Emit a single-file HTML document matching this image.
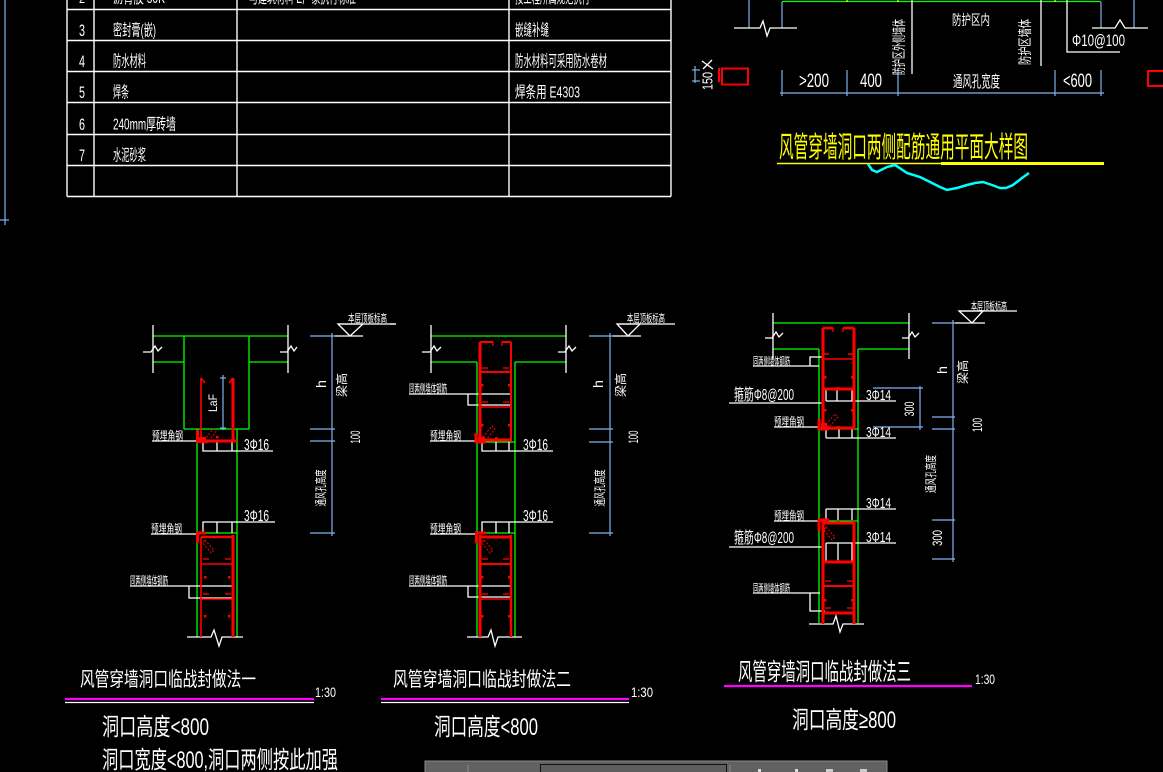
<!DOCTYPE html>
<html><head><meta charset="utf-8">
<style>
html,body{margin:0;padding:0;background:#000;overflow:hidden;}
svg{display:block;}
text{font-family:"Liberation Sans","Noto Sans CJK SC",sans-serif;fill:#fff;}
</style></head><body>
<svg width="1163" height="772" viewBox="0 0 1163 772" xmlns="http://www.w3.org/2000/svg">
<rect width="1163" height="772" fill="#000"/>

<!-- left blue line -->
<g stroke="#7fb2ee" stroke-width="1.2" fill="none">
<line x1="5" y1="0" x2="5" y2="225"/>
<line x1="0" y1="220" x2="9" y2="220"/>
</g>

<!-- TABLE -->
<g stroke="#fff" stroke-width="1.4" fill="none">
<line x1="67" y1="0" x2="67" y2="196.5"/>
<line x1="94" y1="0" x2="94" y2="196.5"/>
<line x1="237" y1="0" x2="237" y2="196.5"/>
<line x1="509" y1="0" x2="509" y2="196.5"/>
<line x1="671" y1="0" x2="671" y2="196.5"/>
<line x1="67" y1="9.5" x2="671" y2="9.5"/>
<line x1="67" y1="40.5" x2="671" y2="40.5"/>
<line x1="67" y1="71.5" x2="671" y2="71.5"/>
<line x1="67" y1="102.5" x2="671" y2="102.5"/>
<line x1="67" y1="134.5" x2="671" y2="134.5"/>
<line x1="67" y1="165.5" x2="671" y2="165.5"/>
<line x1="67" y1="196.5" x2="671" y2="196.5"/>
</g>
<g font-size="16">
<text x="79" y="3" font-size="14" textLength="6" lengthAdjust="spacingAndGlyphs">2</text>
<text x="113" y="3" textLength="52" lengthAdjust="spacingAndGlyphs">沥青胶 50K</text>
<text x="249" y="3" textLength="107" lengthAdjust="spacingAndGlyphs">与建筑材料 E厂家执行标准</text>
<text x="515" y="3" textLength="75" lengthAdjust="spacingAndGlyphs">按工程所属规范执行</text>

<text x="79" y="36" font-size="17" textLength="6" lengthAdjust="spacingAndGlyphs">3</text>
<text x="113" y="35.5" textLength="43" lengthAdjust="spacingAndGlyphs">密封膏(嵌)</text>
<text x="515" y="35.5" textLength="34" lengthAdjust="spacingAndGlyphs">嵌缝补缝</text>

<text x="79" y="67" font-size="17" textLength="6" lengthAdjust="spacingAndGlyphs">4</text>
<text x="113" y="66.5" textLength="33" lengthAdjust="spacingAndGlyphs">防水材料</text>
<text x="515" y="66.5" textLength="92" lengthAdjust="spacingAndGlyphs">防水材料可采用防水卷材</text>

<text x="79" y="98" font-size="17" textLength="6" lengthAdjust="spacingAndGlyphs">5</text>
<text x="113" y="97.5" textLength="16" lengthAdjust="spacingAndGlyphs">焊条</text>
<text x="515" y="97.5" textLength="65" lengthAdjust="spacingAndGlyphs">焊条用 E4303</text>

<text x="79" y="130" font-size="17" textLength="6" lengthAdjust="spacingAndGlyphs">6</text>
<text x="113" y="129.5" textLength="63" lengthAdjust="spacingAndGlyphs">240mm厚砖墙</text>

<text x="79" y="161" font-size="17" textLength="6" lengthAdjust="spacingAndGlyphs">7</text>
<text x="113" y="160.5" textLength="33" lengthAdjust="spacingAndGlyphs">水泥砂浆</text>
</g>

<!-- TOP RIGHT PLAN -->
<g fill="none">
<line x1="782" y1="1.5" x2="1101" y2="1.5" stroke="#00ff00" stroke-width="1.3"/>
<g stroke="#ffff00" stroke-width="1.3">
<line x1="847" y1="0" x2="847" y2="2"/><line x1="898" y1="0" x2="898" y2="2"/><line x1="1055" y1="0" x2="1055" y2="2"/>
</g>
<g stroke="#7fb2ee" stroke-width="1.2">
<line x1="749" y1="0" x2="749" y2="28"/>
<line x1="782" y1="2" x2="782" y2="28"/>
<line x1="1101" y1="2" x2="1101" y2="28"/>
<line x1="1134" y1="0" x2="1134" y2="28"/>
<line x1="780" y1="93" x2="1104" y2="93"/>
<line x1="782" y1="70" x2="782" y2="96"/>
<line x1="847" y1="70" x2="847" y2="96"/>
<line x1="898" y1="70" x2="898" y2="96"/>
<line x1="1055" y1="70" x2="1055" y2="96"/>
<line x1="1101" y1="70" x2="1101" y2="96"/>
<line x1="695" y1="66" x2="695" y2="83"/>
<line x1="692" y1="70" x2="700" y2="70"/>
<line x1="692" y1="81" x2="700" y2="81"/>
</g>
<g stroke="#fff" stroke-width="1.3">
<polyline points="734,28 760,28 763,21 767,36 770,28 797,28"/>
<polyline points="1092,28 1115,28 1120,20 1125,28 1148,28"/>
<line x1="912" y1="0" x2="912" y2="74"/>
<line x1="1041" y1="0" x2="1041" y2="66"/>
<polyline points="1067,0 1067,52 1120,52"/>
<line x1="702" y1="61" x2="713" y2="69"/>
<line x1="703" y1="69" x2="712" y2="60"/>
</g>
<g stroke="#ff0000" stroke-width="2">
<rect x="722" y="68.5" width="26" height="16"/>
<line x1="719" y1="68" x2="719" y2="82"/>
<rect x="1148" y="71" width="18" height="15"/>
</g>
</g>
<text x="952" y="25" font-size="14" textLength="38" lengthAdjust="spacingAndGlyphs">防护区内</text>
<text transform="translate(899,47) rotate(-90)" text-anchor="middle" dy="0.35em" font-size="14" textLength="56" lengthAdjust="spacingAndGlyphs">防护区外侧墙体</text>
<text transform="translate(1025,42) rotate(-90)" text-anchor="middle" dy="0.35em" font-size="14" textLength="46" lengthAdjust="spacingAndGlyphs">防护区墙体</text>
<text x="1072" y="46" font-size="17" textLength="53" lengthAdjust="spacingAndGlyphs">Φ10@100</text>
<text transform="translate(707,81) rotate(-90)" text-anchor="middle" dy="0.35em" font-size="15" textLength="18" lengthAdjust="spacingAndGlyphs">150</text>
<text x="799" y="87" font-size="19" textLength="30" lengthAdjust="spacingAndGlyphs">&gt;200</text>
<text x="860" y="87" font-size="19" textLength="22" lengthAdjust="spacingAndGlyphs">400</text>
<text x="953" y="87" font-size="16" textLength="47" lengthAdjust="spacingAndGlyphs">通风孔宽度</text>
<text x="1063" y="87" font-size="19" textLength="29" lengthAdjust="spacingAndGlyphs">&lt;600</text>

<text x="779" y="157" font-size="29" style="fill:#ffff00" textLength="249" lengthAdjust="spacingAndGlyphs">风管穿墙洞口两侧配筋通用平面大样图</text>
<line x1="777" y1="163.5" x2="941" y2="163.5" stroke="#ffff00" stroke-width="1.5"/>
<line x1="941" y1="163.5" x2="1104" y2="163.5" stroke="#ffff00" stroke-width="3"/>
<polyline points="868,164 872,170 877,172 887,167 895,165 907,173 920,177 930,182 940,187 947,190 957,188 967,185 975,183 983,182 992,185 1000,188 1006,188 1013,185 1022,178 1029,173" fill="none" stroke="#00ffff" stroke-width="2.5"/>

<!-- ================= DETAIL 1 ================= -->
<g fill="none" stroke="#00ff00" stroke-width="1.3">
<line x1="153" y1="336" x2="288" y2="336"/>
<line x1="153" y1="362" x2="184" y2="362"/>
<line x1="249" y1="362" x2="288" y2="362"/>
<line x1="184" y1="336" x2="184" y2="429"/>
<line x1="249" y1="336" x2="249" y2="429"/>
<line x1="184" y1="429" x2="249" y2="429"/>
<line x1="197" y1="429" x2="197" y2="637"/>
<line x1="237" y1="429" x2="237" y2="637"/>
<line x1="197" y1="533" x2="237" y2="533"/>
</g>
<g fill="none" stroke="#fff" stroke-width="1.3">
<line x1="153" y1="325" x2="153" y2="373"/>
<line x1="288" y1="325" x2="288" y2="373"/>
<polyline points="143,352 151,352 155,346 158,351 162,347"/>
<polyline points="280,352 287,352 291,346 294,351 297,347"/>
<line x1="152" y1="441" x2="197" y2="441"/>
<polyline points="203,441 203,451 273,451"/>
<line x1="217" y1="441" x2="217" y2="451"/>
<line x1="232" y1="441" x2="232" y2="451"/>
<line x1="151" y1="534" x2="197" y2="534"/>
<polyline points="203,533 203,522 275,522"/>
<line x1="217" y1="522" x2="217" y2="533"/>
<line x1="232" y1="522" x2="232" y2="533"/>
<line x1="130" y1="586" x2="232" y2="586"/>
<polyline points="189,586 189,598 232,598"/>
<polyline points="187,637 211,637 214,630 219,646 222,637 243,637"/>
<line x1="338" y1="324" x2="396" y2="324"/>
<polygon points="338,324 363,324 350,336"/>
<line x1="335" y1="336" x2="363" y2="336"/>
</g>
<g fill="none" stroke="#7fb2ee" stroke-width="1.2">
<line x1="223" y1="375" x2="223" y2="430"/>
<line x1="220" y1="378" x2="226" y2="378"/>
<line x1="220" y1="428" x2="226" y2="428"/>
<line x1="332" y1="333" x2="332" y2="536"/>
<line x1="310" y1="336" x2="335" y2="336"/>
<line x1="310" y1="429" x2="335" y2="429"/>
<line x1="310" y1="441" x2="335" y2="441"/>
<line x1="310" y1="533" x2="335" y2="533"/>
</g>
<g fill="none" stroke="#ff0000">
<line x1="201" y1="378" x2="201" y2="441" stroke-width="1.6"/>
<line x1="233" y1="378" x2="233" y2="442" stroke-width="3"/>
<line x1="197" y1="441" x2="237" y2="441" stroke-width="3"/>
<line x1="201" y1="378" x2="205" y2="383" stroke-width="1.6"/>
<line x1="233" y1="378" x2="229" y2="383" stroke-width="1.6"/>
<line x1="197.5" y1="430" x2="197.5" y2="443" stroke-width="3"/>
<polygon points="204,440 213,429 216,432 207,443" stroke-width="1" stroke-dasharray="2,1.5"/>
<polyline points="206,533 197.5,533 197.5,543" stroke-width="3"/>
<line x1="201" y1="537" x2="201" y2="637" stroke-width="1.6"/>
<line x1="233" y1="535" x2="233" y2="637" stroke-width="3"/>
<line x1="201" y1="537" x2="233" y2="537" stroke-width="2.5"/>
<line x1="201" y1="564" x2="233" y2="564" stroke-width="1.5"/>
<line x1="201" y1="599" x2="233" y2="599" stroke-width="1.5"/>
<line x1="203" y1="559" x2="209" y2="559" stroke-width="1.3"/>
<line x1="225" y1="559" x2="231" y2="559" stroke-width="1.3"/>
<line x1="203" y1="594" x2="209" y2="594" stroke-width="1.3"/>
<line x1="225" y1="594" x2="231" y2="594" stroke-width="1.3"/>
<polygon points="205,540 214,550 211,553 203,543" stroke-width="1" stroke-dasharray="2,1.5"/>
</g>
<g fill="#ff0000">
<rect x="199" y="437" width="7" height="6"/>
<rect x="216" y="436" width="2.5" height="2.5"/>
<rect x="204" y="576" width="2.5" height="2.5"/><rect x="228" y="576" width="2.5" height="2.5"/>
<rect x="204" y="615" width="2.5" height="2.5"/><rect x="228" y="615" width="2.5" height="2.5"/>
</g>
<text transform="translate(213,403) rotate(-90)" text-anchor="middle" dy="0.35em" font-size="12" textLength="18" lengthAdjust="spacingAndGlyphs">LaF</text>
<text x="152" y="440" font-size="12" textLength="31" lengthAdjust="spacingAndGlyphs">预埋角钢</text>
<text x="244" y="450" font-size="16" textLength="25" lengthAdjust="spacingAndGlyphs">3Φ16</text>
<text x="151" y="533" font-size="12" textLength="31" lengthAdjust="spacingAndGlyphs">预埋角钢</text>
<text x="244" y="521" font-size="16" textLength="25" lengthAdjust="spacingAndGlyphs">3Φ16</text>
<text x="130" y="585" font-size="12" textLength="38" lengthAdjust="spacingAndGlyphs">同两侧墙体钢筋</text>
<text x="348" y="322" font-size="11" textLength="39" lengthAdjust="spacingAndGlyphs">本层顶板标高</text>
<text transform="translate(321,384) rotate(-90)" text-anchor="middle" dy="0.35em" font-size="14" textLength="8" lengthAdjust="spacingAndGlyphs">h</text>
<text transform="translate(342,385) rotate(-90)" text-anchor="middle" dy="0.35em" font-size="12" textLength="24" lengthAdjust="spacingAndGlyphs">梁高</text>
<text transform="translate(355,437) rotate(-90)" text-anchor="middle" dy="0.35em" font-size="14" textLength="13" lengthAdjust="spacingAndGlyphs">100</text>
<text transform="translate(321,488) rotate(-90)" text-anchor="middle" dy="0.35em" font-size="12" textLength="37" lengthAdjust="spacingAndGlyphs">通风孔高度</text>

<!-- ================= DETAIL 2 ================= -->
<g fill="none" stroke="#00ff00" stroke-width="1.3">
<line x1="431" y1="336" x2="566" y2="336"/>
<line x1="431" y1="362" x2="477" y2="362"/>
<line x1="515" y1="362" x2="566" y2="362"/>
<line x1="477" y1="362" x2="477" y2="637"/>
<line x1="515" y1="362" x2="515" y2="637"/>
<line x1="480" y1="442" x2="515" y2="442"/>
<line x1="480" y1="533" x2="515" y2="533"/>
</g>
<g fill="none" stroke="#fff" stroke-width="1.3">
<line x1="431" y1="325" x2="431" y2="373"/>
<line x1="566" y1="325" x2="566" y2="373"/>
<polyline points="422,352 430,352 434,346 437,351 441,347"/>
<polyline points="558,352 565,352 569,346 572,351 576,347"/>
<line x1="390" y1="324" x2="396" y2="324"/>
<line x1="409" y1="394" x2="510" y2="394"/>
<polyline points="468,394 468,405 510,405"/>
<line x1="430" y1="441" x2="476" y2="441"/>
<polyline points="482,442 482,451 553,451"/>
<line x1="496" y1="442" x2="496" y2="451"/>
<line x1="509" y1="442" x2="509" y2="451"/>
<line x1="430" y1="534" x2="476" y2="534"/>
<polyline points="482,533 482,522 553,522"/>
<line x1="496" y1="522" x2="496" y2="533"/>
<line x1="509" y1="522" x2="509" y2="533"/>
<line x1="409" y1="586" x2="510" y2="586"/>
<polyline points="468,586 468,597 510,597"/>
<polyline points="467,637 488,637 491,630 495,646 498,637 522,637"/>
<line x1="617" y1="324" x2="675" y2="324"/>
<polygon points="617,324 640,324 628,336"/>
<line x1="613" y1="336" x2="641" y2="336"/>
</g>
<g fill="none" stroke="#7fb2ee" stroke-width="1.2">
<line x1="610" y1="333" x2="610" y2="536"/>
<line x1="589" y1="336" x2="613" y2="336"/>
<line x1="589" y1="429" x2="613" y2="429"/>
<line x1="589" y1="442" x2="613" y2="442"/>
<line x1="589" y1="533" x2="613" y2="533"/>
</g>
<g fill="none" stroke="#ff0000">
<line x1="480" y1="342" x2="480" y2="441" stroke-width="3"/>
<line x1="511" y1="342" x2="511" y2="441" stroke-width="2"/>
<line x1="480" y1="342" x2="493" y2="342" stroke-width="2"/>
<line x1="502" y1="342" x2="511" y2="342" stroke-width="2"/>
<line x1="493" y1="342" x2="493" y2="346" stroke-width="1.3"/>
<line x1="502" y1="342" x2="502" y2="346" stroke-width="1.3"/>
<line x1="478" y1="440" x2="511" y2="440" stroke-width="3"/>
<line x1="480" y1="372" x2="511" y2="372" stroke-width="2"/>
<line x1="482" y1="368" x2="488" y2="368" stroke-width="1.3"/>
<line x1="503" y1="368" x2="509" y2="368" stroke-width="1.3"/>
<line x1="480" y1="407" x2="511" y2="407" stroke-width="1.5"/>
<line x1="482" y1="402" x2="488" y2="402" stroke-width="1.3"/>
<line x1="503" y1="402" x2="509" y2="402" stroke-width="1.3"/>
<polyline points="476,433 476,442 486,442" stroke-width="3"/>
<polygon points="483,437 492,426 495,429 486,440" stroke-width="1" stroke-dasharray="2,1.5"/>
<polyline points="486,533 476.5,533 476.5,543" stroke-width="3"/>
<line x1="480" y1="535" x2="480" y2="637" stroke-width="3"/>
<line x1="511" y1="535" x2="511" y2="637" stroke-width="2.5"/>
<line x1="480" y1="537" x2="511" y2="537" stroke-width="3"/>
<line x1="480" y1="564" x2="511" y2="564" stroke-width="2"/>
<line x1="480" y1="599" x2="511" y2="599" stroke-width="1.5"/>
<line x1="482" y1="559" x2="488" y2="559" stroke-width="1.3"/>
<line x1="503" y1="559" x2="509" y2="559" stroke-width="1.3"/>
<line x1="482" y1="594" x2="488" y2="594" stroke-width="1.3"/>
<line x1="503" y1="594" x2="509" y2="594" stroke-width="1.3"/>
<polygon points="484,540 493,550 490,553 482,543" stroke-width="1" stroke-dasharray="2,1.5"/>
</g>
<g fill="#ff0000">
<rect x="478" y="437" width="7" height="6"/>
<rect x="481" y="384" width="2.5" height="2.5"/><rect x="508" y="384" width="2.5" height="2.5"/>
<rect x="481" y="424" width="2.5" height="2.5"/><rect x="508" y="424" width="2.5" height="2.5"/>
<rect x="495" y="437" width="2.5" height="2.5"/>
<rect x="481" y="576" width="2.5" height="2.5"/><rect x="508" y="576" width="2.5" height="2.5"/>
<rect x="481" y="615" width="2.5" height="2.5"/><rect x="508" y="615" width="2.5" height="2.5"/>
</g>
<text x="409" y="393" font-size="12" textLength="38" lengthAdjust="spacingAndGlyphs">同两侧墙体钢筋</text>
<text x="430" y="440" font-size="12" textLength="31" lengthAdjust="spacingAndGlyphs">预埋角钢</text>
<text x="523" y="450" font-size="16" textLength="25" lengthAdjust="spacingAndGlyphs">3Φ16</text>
<text x="430" y="533" font-size="12" textLength="31" lengthAdjust="spacingAndGlyphs">预埋角钢</text>
<text x="523" y="521" font-size="16" textLength="25" lengthAdjust="spacingAndGlyphs">3Φ16</text>
<text x="409" y="585" font-size="12" textLength="38" lengthAdjust="spacingAndGlyphs">同两侧墙体钢筋</text>
<text x="627" y="322" font-size="11" textLength="38" lengthAdjust="spacingAndGlyphs">本层顶板标高</text>
<text transform="translate(598,384) rotate(-90)" text-anchor="middle" dy="0.35em" font-size="14" textLength="8" lengthAdjust="spacingAndGlyphs">h</text>
<text transform="translate(621,385) rotate(-90)" text-anchor="middle" dy="0.35em" font-size="12" textLength="24" lengthAdjust="spacingAndGlyphs">梁高</text>
<text transform="translate(633,437) rotate(-90)" text-anchor="middle" dy="0.35em" font-size="14" textLength="13" lengthAdjust="spacingAndGlyphs">100</text>
<text transform="translate(600,488) rotate(-90)" text-anchor="middle" dy="0.35em" font-size="12" textLength="37" lengthAdjust="spacingAndGlyphs">通风孔高度</text>

<!-- ================= DETAIL 3 ================= -->
<g fill="none" stroke="#00ff00" stroke-width="1.3">
<line x1="773" y1="323" x2="909" y2="323"/>
<line x1="773" y1="349" x2="819" y2="349"/>
<line x1="858" y1="349" x2="909" y2="349"/>
<line x1="819" y1="349" x2="819" y2="623"/>
<line x1="858" y1="349" x2="858" y2="623"/>
<line x1="819" y1="429" x2="858" y2="429"/>
<line x1="819" y1="521" x2="858" y2="521"/>
</g>
<g fill="none" stroke="#fff" stroke-width="1.3">
<line x1="773" y1="313" x2="773" y2="359"/>
<line x1="909" y1="313" x2="909" y2="359"/>
<polyline points="765,338 772,338 776,332 779,337 783,333"/>
<polyline points="902,338 908,338 912,332 915,337 919,333"/>
<line x1="753" y1="366" x2="819" y2="366"/>
<polyline points="810,366 810,357 823,357"/>
<line x1="729" y1="403" x2="822" y2="403"/>
<line x1="774" y1="427" x2="819" y2="427"/>
<line x1="826" y1="389" x2="826" y2="401"/>
<line x1="837" y1="389" x2="837" y2="401"/>
<line x1="852" y1="389" x2="852" y2="401"/>
<line x1="826" y1="401" x2="896" y2="401"/>
<line x1="826" y1="429" x2="826" y2="438"/>
<line x1="839" y1="429" x2="839" y2="438"/>
<line x1="852" y1="429" x2="852" y2="438"/>
<line x1="826" y1="438" x2="896" y2="438"/>
<line x1="826" y1="509" x2="896" y2="509"/>
<line x1="826" y1="509" x2="826" y2="520"/>
<line x1="838" y1="509" x2="838" y2="520"/>
<line x1="852" y1="509" x2="852" y2="520"/>
<line x1="774" y1="521" x2="819" y2="521"/>
<line x1="826" y1="543" x2="896" y2="543"/>
<line x1="826" y1="543" x2="826" y2="562"/>
<line x1="838" y1="543" x2="838" y2="562"/>
<line x1="852" y1="543" x2="852" y2="562"/>
<line x1="729" y1="547" x2="822" y2="547"/>
<line x1="753" y1="593" x2="820" y2="593"/>
<polyline points="810,593 810,611 825,611"/>
<polyline points="809,624 833,624 836,616 840,632 843,624 864,624"/>
<line x1="959" y1="311" x2="1017" y2="311"/>
<polygon points="959,311 983,311 972,323"/>
<line x1="955" y1="323" x2="985" y2="323"/>
</g>
<g fill="none" stroke="#7fb2ee" stroke-width="1.2">
<line x1="953" y1="320" x2="953" y2="562"/>
<line x1="932" y1="323" x2="955" y2="323"/>
<line x1="932" y1="417" x2="955" y2="417"/>
<line x1="932" y1="429" x2="955" y2="429"/>
<line x1="932" y1="520" x2="955" y2="520"/>
<line x1="932" y1="559" x2="955" y2="559"/>
<line x1="920" y1="386" x2="920" y2="430"/>
<line x1="873" y1="388" x2="923" y2="388"/>
<line x1="873" y1="427" x2="923" y2="427"/>
</g>
<g fill="none" stroke="#ff0000">
<line x1="823" y1="328" x2="823" y2="429" stroke-width="3"/>
<line x1="854" y1="328" x2="854" y2="429" stroke-width="3"/>
<line x1="823" y1="328" x2="833" y2="328" stroke-width="2.5"/>
<line x1="843" y1="328" x2="854" y2="328" stroke-width="2.5"/>
<line x1="833" y1="328" x2="833" y2="332" stroke-width="1.3"/>
<line x1="843" y1="328" x2="843" y2="332" stroke-width="1.3"/>
<line x1="823" y1="354" x2="829" y2="354" stroke-width="1.5"/>
<line x1="848" y1="354" x2="854" y2="354" stroke-width="1.5"/>
<line x1="823" y1="359" x2="854" y2="359" stroke-width="1.5"/>
<line x1="823" y1="389" x2="854" y2="389" stroke-width="3"/>
<line x1="823" y1="428" x2="854" y2="428" stroke-width="3"/>
<polyline points="819,419 819,429 829,429" stroke-width="3"/>
<polygon points="826,424 835,414 838,417 829,427" stroke-width="1" stroke-dasharray="2,1.5"/>
<polyline points="829,520 819,520 819,531" stroke-width="3"/>
<line x1="823" y1="521" x2="823" y2="624" stroke-width="3"/>
<line x1="854" y1="521" x2="854" y2="624" stroke-width="3"/>
<line x1="823" y1="523" x2="854" y2="523" stroke-width="3"/>
<line x1="823" y1="562" x2="854" y2="562" stroke-width="3"/>
<line x1="823" y1="586" x2="854" y2="586" stroke-width="2"/>
<line x1="825" y1="581" x2="831" y2="581" stroke-width="1.3"/>
<line x1="847" y1="581" x2="853" y2="581" stroke-width="1.3"/>
<line x1="825" y1="608" x2="831" y2="608" stroke-width="1.3"/>
<line x1="847" y1="608" x2="853" y2="608" stroke-width="1.3"/>
<line x1="823" y1="613" x2="854" y2="613" stroke-width="3"/>
<polygon points="826,527 835,537 832,540 824,530" stroke-width="1" stroke-dasharray="2,1.5"/>
</g>
<g fill="#ff0000">
<rect x="821" y="423" width="6" height="7"/>
<rect x="824" y="376" width="2.5" height="2.5"/><rect x="851" y="376" width="2.5" height="2.5"/>
<rect x="824" y="409" width="2.5" height="2.5"/><rect x="851" y="409" width="2.5" height="2.5"/>
<rect x="837" y="387" width="2.5" height="2.5"/><rect x="837" y="426" width="2.5" height="2.5"/>
<rect x="824" y="599" width="2.5" height="2.5"/><rect x="851" y="599" width="2.5" height="2.5"/>
<rect x="837" y="521" width="2.5" height="2.5"/><rect x="837" y="560" width="2.5" height="2.5"/>
</g>
<text x="753" y="365" font-size="11" textLength="37" lengthAdjust="spacingAndGlyphs">同两侧墙体钢筋</text>
<text x="734" y="400" font-size="16" textLength="60" lengthAdjust="spacingAndGlyphs">箍筋Φ8@200</text>
<text x="774" y="426" font-size="12" textLength="30" lengthAdjust="spacingAndGlyphs">预埋角钢</text>
<text x="866" y="400" font-size="15" textLength="25" lengthAdjust="spacingAndGlyphs">3Φ14</text>
<text x="866" y="437" font-size="15" textLength="25" lengthAdjust="spacingAndGlyphs">3Φ14</text>
<text x="866" y="508" font-size="15" textLength="25" lengthAdjust="spacingAndGlyphs">3Φ14</text>
<text x="866" y="542" font-size="15" textLength="25" lengthAdjust="spacingAndGlyphs">3Φ14</text>
<text x="774" y="520" font-size="12" textLength="30" lengthAdjust="spacingAndGlyphs">预埋角钢</text>
<text x="734" y="543" font-size="16" textLength="60" lengthAdjust="spacingAndGlyphs">箍筋Φ8@200</text>
<text x="753" y="592" font-size="11" textLength="37" lengthAdjust="spacingAndGlyphs">同两侧墙体钢筋</text>
<text x="971" y="310" font-size="11" textLength="36" lengthAdjust="spacingAndGlyphs">本层顶板标高</text>
<text transform="translate(942,370) rotate(-90)" text-anchor="middle" dy="0.35em" font-size="14" textLength="8" lengthAdjust="spacingAndGlyphs">h</text>
<text transform="translate(963,372) rotate(-90)" text-anchor="middle" dy="0.35em" font-size="12" textLength="24" lengthAdjust="spacingAndGlyphs">梁高</text>
<text transform="translate(977,425) rotate(-90)" text-anchor="middle" dy="0.35em" font-size="14" textLength="14" lengthAdjust="spacingAndGlyphs">100</text>
<text transform="translate(931,474) rotate(-90)" text-anchor="middle" dy="0.35em" font-size="12" textLength="38" lengthAdjust="spacingAndGlyphs">通风孔高度</text>
<text transform="translate(909,409) rotate(-90)" text-anchor="middle" dy="0.35em" font-size="14" textLength="15" lengthAdjust="spacingAndGlyphs">300</text>
<text transform="translate(937,538) rotate(-90)" text-anchor="middle" dy="0.35em" font-size="14" textLength="16" lengthAdjust="spacingAndGlyphs">300</text>

<!-- ================= BOTTOM TITLES ================= -->
<text x="80" y="686" font-size="20" textLength="176" lengthAdjust="spacingAndGlyphs">风管穿墙洞口临战封做法一</text>
<text x="315" y="697" font-size="14" textLength="21" lengthAdjust="spacingAndGlyphs">1:30</text>
<line x1="65" y1="699" x2="314" y2="699" stroke="#ff00ff" stroke-width="2.2"/>
<line x1="65" y1="702.5" x2="314" y2="702.5" stroke="#fff" stroke-width="1.3"/>
<text x="102" y="735" font-size="24" textLength="107" lengthAdjust="spacingAndGlyphs">洞口高度&lt;800</text>
<text x="102" y="768" font-size="24" textLength="236" lengthAdjust="spacingAndGlyphs">洞口宽度&lt;800,洞口两侧按此加强</text>

<text x="393" y="686" font-size="20" textLength="178" lengthAdjust="spacingAndGlyphs">风管穿墙洞口临战封做法二</text>
<text x="631" y="697" font-size="14" textLength="22" lengthAdjust="spacingAndGlyphs">1:30</text>
<line x1="381" y1="699" x2="629" y2="699" stroke="#ff00ff" stroke-width="2.2"/>
<line x1="381" y1="702.5" x2="629" y2="702.5" stroke="#fff" stroke-width="1.3"/>
<text x="434" y="735" font-size="24" textLength="104" lengthAdjust="spacingAndGlyphs">洞口高度&lt;800</text>

<text x="738" y="680" font-size="24" textLength="173" lengthAdjust="spacingAndGlyphs">风管穿墙洞口临战封做法三</text>
<text x="975" y="684" font-size="14" textLength="20" lengthAdjust="spacingAndGlyphs">1:30</text>
<line x1="724" y1="686" x2="972" y2="686" stroke="#ff00ff" stroke-width="2.2"/>
<text x="792" y="728" font-size="24" textLength="104" lengthAdjust="spacingAndGlyphs">洞口高度≥800</text>

<!-- bottom toolbar -->
<rect x="425" y="761" width="462" height="12" fill="#616161" stroke="#8a8a8a" stroke-width="1"/>
<rect x="540.5" y="764.5" width="186" height="9" fill="#5e5e5e" stroke="#111" stroke-width="1"/>
<line x1="468" y1="765" x2="468" y2="772" stroke="#8a8a8a"/>
<line x1="730" y1="765" x2="730" y2="772" stroke="#8a8a8a"/>
<rect x="758" y="769" width="3" height="3" fill="#ddd"/>
<rect x="795" y="769" width="3" height="3" fill="#ddd"/>
<rect x="826" y="769" width="7" height="3" fill="#ccc"/>
<rect x="860" y="769" width="7" height="3" fill="#ccc"/>
</svg>
</body></html>
